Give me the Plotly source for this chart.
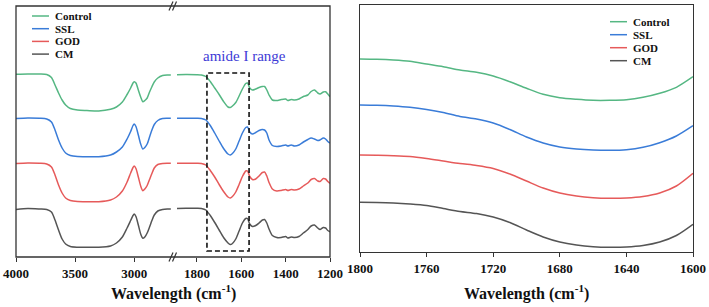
import plotly.graph_objects as go

W, H = 709, 307

names = ["Control", "SSL", "GOD", "CM"]
colors = ["#55b783", "#3a7cd8", "#e65a5a", "#555555"]

# ---- left panel, high-wavenumber segment (cm-1) ----
wn_high = [4000, 3900, 3800, 3740, 3700, 3670, 3640, 3610, 3580, 3540, 3480, 3400, 3300,
           3200, 3150, 3100, 3060, 3030, 3010, 3000, 2985, 2965, 2945, 2927, 2910, 2890,
           2870, 2850, 2830, 2800, 2760, 2720, 2690]
control_high = [185.7, 186, 186, 185.5, 182.5, 175, 167, 160, 155, 151.5, 150, 149.5, 149,
                150.7, 153, 158, 165.5, 172, 177, 178.3, 177, 170, 163, 158.3, 159.5, 162,
                168, 173.3, 178, 182, 184.5, 185, 185]
ssl_high = [141.5, 142, 141.7, 141, 138, 130, 120, 112, 107, 104.5, 103.5, 103.3, 103.3,
            105, 108, 113, 121, 128.5, 134.5, 136, 133.5, 125, 116, 111, 112.5, 116,
            123, 130, 135.5, 139.5, 141.5, 141.7, 141.7]
god_high = [96.5, 97, 96.7, 96, 93, 85, 75, 67, 62, 59.5, 58.5, 58.3, 58.3,
            60, 63, 69, 78, 87, 92.5, 94, 91.5, 83, 74, 69.3, 71, 74.5,
            80.5, 86.5, 92, 95.5, 96.5, 96.7, 96.7]
cm_high = [50.5, 51.5, 51, 50.5, 48, 40, 30, 21, 16, 13.5, 12.8, 12.7, 12.7,
           14, 17, 23, 32, 39.5, 44.5, 46, 43.5, 35, 26, 21.7, 23, 27,
           33, 39.5, 45, 49, 50.5, 51, 51]

# ---- left panel, fingerprint segment (cm-1) ----
wn_low = [1890, 1850, 1800, 1780, 1760, 1740, 1720, 1700, 1680, 1660, 1650, 1640, 1625,
          1610, 1595, 1580, 1572, 1562, 1550, 1535, 1520, 1505, 1495, 1485, 1475, 1460,
          1440, 1420, 1400, 1390, 1375, 1360, 1340, 1320, 1300, 1285, 1270, 1255, 1245,
          1230, 1220, 1210, 1200]
control_low = [185.3, 185.5, 185.3, 185, 183.5, 178.5, 172, 165.5, 158.5, 153, 152.5, 154, 157.5,
               164, 171, 176.5, 177, 172, 170, 171, 172.5, 173.5, 173.5, 170, 165, 160,
               159.5, 160.5, 161, 159.5, 160.5, 160, 161, 163.5, 165, 168.5, 170, 167, 166,
               168, 168.3, 166, 163.3]
ssl_low = [141.7, 141.7, 141.7, 141.5, 140, 134.5, 127, 119, 111.5, 106, 105, 106.5, 111,
           119, 127, 132.5, 133, 128, 126, 127.5, 129.5, 130.5, 130, 127, 120, 114.5,
           113.5, 114, 115, 114, 115, 114, 115, 118, 120.5, 122, 121, 119.5, 120,
           122, 121, 118.5, 117]
god_low = [96.7, 96.7, 96.7, 96.5, 95, 89.5, 83, 75.5, 68.5, 63, 62, 63.5, 68,
           75.5, 83.5, 89, 89, 83.5, 80.5, 81, 84, 87.5, 88, 84, 77.5, 71,
           69, 69.5, 70.5, 69.5, 70.5, 70, 71, 74, 77, 80.5, 81.5, 79, 78.5,
           81.5, 81, 78.5, 76.7]
cm_low = [51.5, 51.7, 51.7, 51.5, 50, 44.5, 37.5, 30, 22.5, 17, 15.5, 16.5, 21,
          29, 37, 41.5, 41.5, 36, 33.5, 34.5, 37, 40, 40.5, 37, 31, 24.5,
          22.5, 22.5, 23.5, 22, 23, 22.5, 23.5, 27, 30.5, 34, 35, 32, 30.5,
          32.5, 32, 29.5, 28.3]

# ---- right panel, amide I zoom (cm-1) ----
wn_zoom = [1800, 1790, 1780, 1770, 1760, 1750, 1740, 1730, 1720, 1710, 1700, 1690, 1680,
           1670, 1660, 1650, 1640, 1630, 1620, 1610, 1600]
control_zoom = [201, 200.7, 200, 198.7, 196, 193.3, 190, 187.7, 184, 178.3, 171.7, 165.7, 162.3,
                160.7, 159.7, 159.7, 160.3, 162.7, 166.7, 172.7, 183.3]
ssl_zoom = [155, 154.7, 154, 152.7, 150.5, 147.5, 143.5, 141, 137, 130.5, 123, 117, 113,
            111, 110, 109.7, 110.3, 112.7, 117.3, 124, 134.3]
god_zoom = [105, 104.7, 104.3, 103.5, 101.5, 99, 96.5, 94.5, 91.5, 86, 79, 72, 67,
            64, 62.3, 61.7, 62, 63.5, 67, 74, 86.7]
cm_zoom = [57.7, 57.5, 57, 56, 54.5, 51.5, 48.5, 46.5, 43, 37.5, 30, 23, 18,
           15, 13.3, 12.7, 13, 14.5, 18, 24.5, 35.7]

high_vals = [control_high, ssl_high, god_high, cm_high]
low_vals = [control_low, ssl_low, god_low, cm_low]
zoom_vals = [control_zoom, ssl_zoom, god_zoom, cm_zoom]

left_ticks_high = [4000, 3500, 3000]
left_ticks_low = [1800, 1600, 1400, 1200]
right_ticks = [1800, 1760, 1720, 1680, 1640, 1600]
amide_range = [1755, 1565]


def px(x):
    return x / W


def py(y):
    return 1 - y / H


SERIF = "Liberation Serif"
AX = "#333333"

fig = go.Figure()
for i, n in enumerate(names):
    fig.add_trace(go.Scatter(x=wn_high, y=high_vals[i], xaxis="x", yaxis="y", mode="lines",
                             line=dict(color=colors[i], width=1.5, shape="spline", smoothing=0.7),
                             name=n, showlegend=False))
    fig.add_trace(go.Scatter(x=wn_low, y=low_vals[i], xaxis="x2", yaxis="y", mode="lines",
                             line=dict(color=colors[i], width=1.5, shape="spline", smoothing=0.7),
                             name=n, showlegend=False))
    fig.add_trace(go.Scatter(x=wn_zoom, y=zoom_vals[i], xaxis="x3", yaxis="y2", mode="lines",
                             line=dict(color=colors[i], width=1.5, shape="spline", smoothing=0.8),
                             name=n, showlegend=False))

tickfont = dict(family=SERIF, size=13, color="#111", weight="bold")
common_x = dict(ticks="outside", ticklen=4, tickwidth=1.2, tickcolor=AX, showgrid=False,
                zeroline=False, tickfont=tickfont, automargin=False)

fig.update_layout(
    width=W, height=H, margin=dict(l=0, r=0, t=0, b=0, autoexpand=False),
    paper_bgcolor="white", plot_bgcolor="white",
    xaxis=dict(domain=[px(16), px(172)], range=[4000, 2680], tickvals=left_ticks_high,
               anchor="y", showline=False, **common_x),
    xaxis2=dict(domain=[px(174.8), px(330)], range=[1900, 1200], tickvals=left_ticks_low,
                anchor="y", showline=False, **common_x),
    yaxis=dict(domain=[py(257), py(6)], range=[3, 254], showticklabels=False, ticks="",
               showgrid=False, zeroline=False, showline=False, anchor="x", automargin=False),
    xaxis3=dict(domain=[px(360), px(693)], range=[1800, 1600], tickvals=right_ticks,
                anchor="y2", showline=True, mirror=True, linecolor=AX, linewidth=1.3,
                **common_x),
    yaxis2=dict(domain=[py(252), py(5)], range=[8, 255], showticklabels=False, ticks="",
                showgrid=False, zeroline=False, anchor="x3", automargin=False,
                showline=True, mirror=True, linecolor=AX, linewidth=1.3),
    showlegend=False,
)

shapes = []
# left panel frame
shapes.append(dict(type="rect", xref="paper", yref="paper", x0=px(16), x1=px(330),
                   y0=py(257), y1=py(6), line=dict(color=AX, width=1.3)))
# axis break marks
for yb in (6, 257):
    for dx in (0, 3.5):
        shapes.append(dict(type="line", xref="paper", yref="paper",
                           x0=px(169 + dx), y0=py(yb + 4.5), x1=px(173 + dx), y1=py(yb - 4.5),
                           line=dict(color=AX, width=1.2)))
# amide I dashed box
shapes.append(dict(type="rect", xref="x2", yref="y", x0=amide_range[0], x1=amide_range[1],
                   y0=9, y1=187, line=dict(color="#111", width=1.6, dash="5px,3px")))

annotations = []
# legends (drawn manually to match the compact spacing)
for (lx, ly0, step, fs) in [(32, 16, 12.7, 11), (610, 21.7, 13, 11)]:
    for i, n in enumerate(names):
        yy = ly0 + i * step
        shapes.append(dict(type="line", xref="paper", yref="paper", x0=px(lx), x1=px(lx + 17),
                           y0=py(yy), y1=py(yy), line=dict(color=colors[i], width=1.5)))
        annotations.append(dict(xref="paper", yref="paper", x=px(lx + 21), y=py(yy),
                                xanchor="left", yanchor="middle", showarrow=False, text=n,
                                font=dict(family=SERIF, size=fs, color="#111", weight="bold")))

annotations.append(dict(xref="paper", yref="paper", x=px(244), y=py(56), xanchor="center",
                        yanchor="middle", showarrow=False, text="amide I range",
                        font=dict(family=SERIF, size=15, color="#3d3ad6")))
for cx in (173, 526.5):
    annotations.append(dict(xref="paper", yref="paper", x=px(cx), y=py(292), xanchor="center",
                            yanchor="middle", showarrow=False,
                            text="Wavelength (cm<sup>-1</sup>)",
                            font=dict(family=SERIF, size=16, color="#111", weight="bold")))

fig.update_layout(shapes=shapes, annotations=annotations)
fig.write_html("out.html")
